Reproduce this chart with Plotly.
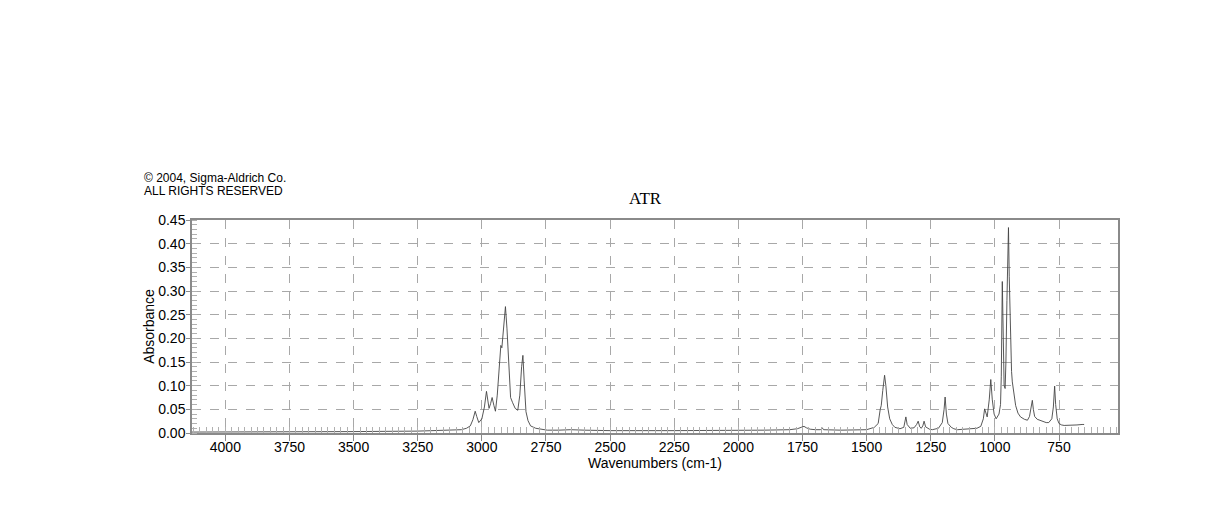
import plotly.graph_objects as go

# spectrum (wavenumber cm-1, absorbance)
wavenumbers = [
    4130, 4000, 3750, 3500, 3250, 3150, 3100, 3080, 3060, 3045,
    3035, 3026, 3020, 3012, 3000, 2990, 2982, 2977, 2972, 2966,
    2960, 2953, 2947, 2940, 2932, 2926, 2922, 2915, 2908, 2902,
    2895, 2888, 2880, 2870, 2860, 2852, 2845, 2840, 2835, 2828,
    2820, 2810, 2790, 2770, 2745, 2700, 2654, 2600, 2500, 2250,
    2000, 1900, 1800, 1770, 1755, 1744, 1735, 1720, 1700, 1680,
    1673, 1668, 1600, 1500, 1470, 1455, 1447, 1443, 1437, 1430,
    1425, 1418, 1410, 1400, 1390, 1370, 1355, 1347, 1342, 1330,
    1315, 1305, 1299, 1293, 1287, 1281, 1276, 1270, 1255, 1244,
    1220, 1205, 1198, 1194, 1189, 1183, 1170, 1160, 1146, 1100,
    1070, 1055, 1045, 1040, 1035, 1030, 1022, 1016, 1010, 1003,
    995, 984, 978, 975, 971, 968, 964, 960, 957, 953,
    947, 944, 940, 935, 932, 925, 919, 910, 900, 885,
    873, 865, 858, 854, 850, 845, 835, 820, 800, 790,
    785, 778, 772, 767, 763, 757, 750, 740, 730, 700,
    680, 660, 652,
]
absorbance = [
    0.002, 0.002, 0.002, 0.003, 0.004, 0.005, 0.006, 0.007, 0.010, 0.015,
    0.028, 0.046, 0.035, 0.022, 0.030, 0.055, 0.088, 0.070, 0.052, 0.062,
    0.075, 0.058, 0.046, 0.080, 0.140, 0.185, 0.180, 0.230, 0.267, 0.220,
    0.130, 0.075, 0.064, 0.052, 0.048, 0.080, 0.140, 0.164, 0.110, 0.045,
    0.026, 0.015, 0.010, 0.008, 0.006, 0.006, 0.007, 0.006, 0.005, 0.005,
    0.005, 0.006, 0.007, 0.009, 0.012, 0.014, 0.011, 0.008, 0.007, 0.007,
    0.011, 0.007, 0.006, 0.007, 0.012, 0.020, 0.050, 0.058, 0.090, 0.122,
    0.100, 0.055, 0.030, 0.018, 0.012, 0.009, 0.012, 0.034, 0.018, 0.010,
    0.011, 0.018, 0.025, 0.013, 0.010, 0.015, 0.025, 0.013, 0.008, 0.007,
    0.010, 0.022, 0.050, 0.076, 0.040, 0.020, 0.012, 0.009, 0.007, 0.008,
    0.010, 0.014, 0.030, 0.051, 0.040, 0.034, 0.070, 0.113, 0.070, 0.040,
    0.030, 0.040, 0.060, 0.120, 0.320, 0.160, 0.100, 0.094, 0.150, 0.280,
    0.434, 0.330, 0.200, 0.130, 0.108, 0.075, 0.058, 0.042, 0.034, 0.029,
    0.027, 0.035, 0.055, 0.069, 0.050, 0.035, 0.029, 0.026, 0.022, 0.022,
    0.026, 0.030, 0.055, 0.099, 0.060, 0.030, 0.020, 0.017, 0.016, 0.016,
    0.017, 0.018, 0.018,
]

x_ticks = [4000, 3750, 3500, 3250, 3000, 2750, 2500, 2250, 2000, 1750, 1500, 1250, 1000, 750]
y_ticks = [0.00, 0.05, 0.10, 0.15, 0.20, 0.25, 0.30, 0.35, 0.40, 0.45]

sans = "Liberation Sans, Arial, sans-serif"
serif = "Liberation Serif, Times New Roman, serif"
axis_gray = "#8a8a8a"
grid_gray = "#a8a8a8"

fig = go.Figure()
fig.add_trace(go.Scatter(
    x=wavenumbers, y=absorbance, mode="lines",
    line=dict(color="#444444", width=0.9),
    hoverinfo="skip", showlegend=False,
))

# page has an 8px body margin, so margins are shifted by that
fig.update_layout(
    width=1218, height=528,
    margin=dict(l=184, r=108, t=212, b=103),
    plot_bgcolor="#fff", paper_bgcolor="#fff",
    font=dict(family=sans, size=14, color="#000"),
    showlegend=False,
)

fig.update_xaxes(
    range=[4130, 520],
    tickvals=x_ticks, ticktext=[str(v) for v in x_ticks],
    ticks="outside", ticklen=6, tickcolor=axis_gray,
    ticklabelstandoff=-6,
    showline=True, linecolor=axis_gray, linewidth=1.5, mirror=True,
    showgrid=True, gridcolor=grid_gray, griddash="dash", gridwidth=1,
    zeroline=False,
    minor=dict(dtick=25, tick0=0, ticks="inside", ticklen=6, tickcolor="#b0b0b0", showgrid=False),
    title=dict(text="Wavenumbers (cm-1)", font=dict(family=sans, size=14), standoff=3),
    tickfont=dict(family=sans, size=14),
)

fig.update_yaxes(
    range=[0, 0.45],
    tickvals=y_ticks, ticktext=["%.2f" % v for v in y_ticks],
    ticks="outside", ticklen=4, tickcolor=axis_gray,
    ticklabelstandoff=-2,
    showline=True, linecolor=axis_gray, linewidth=1.5, mirror=True,
    showgrid=True, gridcolor=grid_gray, griddash="dash", gridwidth=1,
    zeroline=False,
    minor=dict(dtick=0.01, tick0=0, ticks="inside", ticklen=5, tickcolor="#b0b0b0", showgrid=False),
    title=dict(text="Absorbance", font=dict(family=sans, size=14), standoff=0),
    tickfont=dict(family=sans, size=14),
)

for line_text, line_y in [("\u00a9 2004, Sigma-Aldrich Co.", 1.196), ("ALL RIGHTS RESERVED", 1.135)]:
    fig.add_annotation(
        text=line_text,
        xref="paper", yref="paper", x=-0.0537, y=line_y,
        xanchor="left", yanchor="middle", align="left", showarrow=False,
        font=dict(family=sans, size=12, color="#000"),
    )
fig.add_annotation(
    text="ATR",
    xref="paper", yref="paper", x=0.4895, y=1.102,
    xanchor="center", yanchor="middle", showarrow=False,
    font=dict(family=serif, size=17, color="#000"),
)

fig.write_html("out.html")
